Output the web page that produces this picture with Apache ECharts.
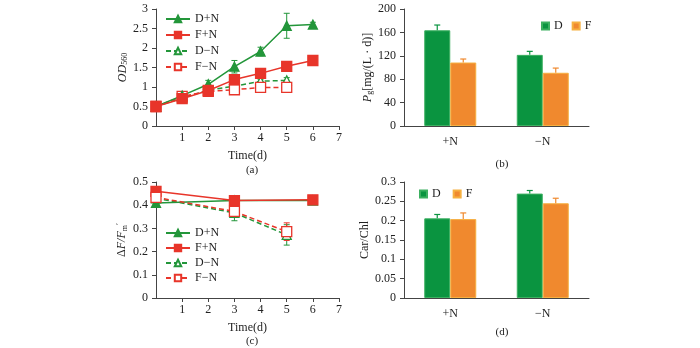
<!DOCTYPE html>
<html><head><meta charset="utf-8">
<script src="https://cdn.jsdelivr.net/npm/echarts@6/dist/echarts.min.js"></script>
<style>html,body{margin:0;padding:0;background:#fff}#c{width:700px;height:348px}</style>
</head><body><div id="c"></div>
<script>
// ---- Data ----
// (a) OD560 vs time: [day, value, error]
var odDays = [0, 1, 2, 3, 4, 5, 6];
var odDN_plus  = [0.5, 0.78, 1.07, 1.52, 1.91, 2.57, 2.6];
var odDN_plusErr = [0, 0.03, 0.1, 0.16, 0.11, 0.32, 0.06];
var odFN_plus  = [0.5, 0.7, 0.91, 1.19, 1.35, 1.53, 1.68];
var odFN_plusErr = [0, 0.02, 0.03, 0.04, 0.04, 0.08, 0.03];
var odDaysMinus = [0, 1, 2, 3, 4, 5];
var odDN_minus = [0.5, 0.72, 0.92, 1.02, 1.15, 1.17];
var odDN_minusErr = [0, 0.02, 0.03, 0.04, 0.05, 0.07];
var odFN_minus = [0.5, 0.76, 0.89, 0.93, 0.99, 0.99];
var odFN_minusErr = [0, 0.02, 0.02, 0.03, 0.03, 0.03];
// (c) ΔF/Fm' vs time
var fvDaysPlus = [0, 3, 6];
var fvDN_plus = [0.41, 0.42, 0.42];
var fvDN_plusErr = [0, 0.01, 0.005];
var fvFN_plus = [0.46, 0.42, 0.423];
var fvFN_plusErr = [0.005, 0.005, 0.005];
var fvDaysMinus = [0, 3, 5];
var fvDN_minus = [0.43, 0.367, 0.272];
var fvDN_minusErr = [0.005, 0.034, 0.044];
var fvFN_minus = [0.434, 0.373, 0.286];
var fvFN_minusErr = [0.005, 0.01, 0.038];
// (b) Pg bars
var barCats = ['+N', '−N'];
var pgD = [163.6, 121.6];
var pgDErr = [9, 6];
var pgF = [108.5, 91];
var pgFErr = [6, 8];
// (d) Car/Chl bars
var ccD = [0.206, 0.27];
var ccDErr = [0.01, 0.008];
var ccF = [0.204, 0.245];
var ccFErr = [0.016, 0.013];
// tick settings
var odTicks = {min: 0, max: 3, interval: 0.5};
var pgTicks = {min: 0, max: 200, interval: 40};
var fvTicks = {min: 0, max: 0.5, interval: 0.1};
var ccTicks = {min: 0, max: 0.3, interval: 0.05};
var dayTicks = {min: 0, max: 7, interval: 1};

// ---- Styles ----
var GREEN = '#23963a', RED = '#e8352a', BAR_G = '#0a9440', BAR_O = '#f0892e';
var FONT = 'Liberation Serif';
var AX = '#444';

function zip(xs, ys, es) { return xs.map(function (x, i) { return [x, ys[i], es[i]]; }); }

var chart = echarts.init(document.getElementById('c'), null, {renderer: 'canvas'});

var grids = [
  {left: 156, top: 9, width: 183, height: 117},
  {left: 404, top: 9, width: 185, height: 117},
  {left: 156, top: 182, width: 183, height: 116},
  {left: 404, top: 182, width: 185, height: 116}
];

var labelStyle = {color: '#222', fontFamily: FONT, fontSize: 12};
function valueX(gi) {
  return {type: 'value', gridIndex: gi, min: dayTicks.min, max: dayTicks.max, interval: dayTicks.interval,
    name: 'Time(d)', nameLocation: 'middle', nameGap: 24,
    nameTextStyle: {color: '#222', fontFamily: FONT, fontSize: 12},
    axisLine: {lineStyle: {color: AX}}, axisTick: {lineStyle: {color: AX}, length: 4},
    splitLine: {show: false},
    axisLabel: Object.assign({showMinLabel: false, margin: 6}, labelStyle)};
}
function catX(gi) {
  return {type: 'category', gridIndex: gi, data: barCats,
    axisLine: {lineStyle: {color: AX}}, axisTick: {lineStyle: {color: AX}, length: 4},
    axisLabel: Object.assign({margin: 10}, labelStyle)};
}
function valueY(gi, t, name, gap, rich) {
  return {type: 'value', gridIndex: gi, min: t.min, max: t.max, interval: t.interval,
    name: name, nameLocation: 'middle', nameGap: gap,
    nameTextStyle: {color: '#222', fontFamily: FONT, fontSize: 12, rich: rich},
    axisLine: {show: true, lineStyle: {color: AX}},
    axisTick: {show: true, lineStyle: {color: AX}, length: 4},
    splitLine: {show: false},
    axisLabel: Object.assign({margin: 8}, labelStyle)};
}
var richSub = {
  i: {fontFamily: FONT, fontSize: 12, fontStyle: 'italic', color: '#222'},
  s: {fontFamily: FONT, fontSize: 8, color: '#222', verticalAlign: 'bottom', padding: [5, 0, 0, 0]},
  p: {fontFamily: FONT, fontSize: 9, color: '#222', verticalAlign: 'top', padding: [0, 0, 5, 0]},
  n: {fontFamily: FONT, fontSize: 12, color: '#222'}
};

function lineSeries(name, xi, data, color, symbol, filled, dashed) {
  return {type: 'line', name: name, xAxisIndex: xi, yAxisIndex: xi, data: data.map(function (d) { return [d[0], d[1]]; }),
    symbol: symbol, symbolSize: symbol === 'rect' ? 10 : 9,
    lineStyle: {color: color, width: 1.5, type: dashed ? [5, 3] : 'solid'},
    itemStyle: {color: filled ? color : '#fff', borderColor: color, borderWidth: 1.3},
    z: 3};
}
function errSeries(xi, data, color) {
  return {type: 'custom', xAxisIndex: xi, yAxisIndex: xi, data: data, z: 2, silent: true,
    renderItem: function (params, api) {
      var x = api.value(0), y = api.value(1), e = api.value(2);
      var top = api.coord([x, y + e]), bot = api.coord([x, y - e]);
      var w = 3;
      return {type: 'group', children: [
        {type: 'line', shape: {x1: top[0], y1: top[1], x2: bot[0], y2: bot[1]}, style: {stroke: color, lineWidth: 1}},
        {type: 'line', shape: {x1: top[0] - w, y1: top[1], x2: top[0] + w, y2: top[1]}, style: {stroke: color, lineWidth: 1}},
        {type: 'line', shape: {x1: bot[0] - w, y1: bot[1], x2: bot[0] + w, y2: bot[1]}, style: {stroke: color, lineWidth: 1}}
      ]};
    }};
}
var BARW = 26;
function barSeries(name, xi, vals, color, border) {
  return {type: 'bar', name: name, xAxisIndex: xi, yAxisIndex: xi, data: vals, barWidth: BARW, barGap: 0,
    itemStyle: {color: color, borderColor: border, borderWidth: 1}, z: 2};
}
function barErr(xi, vals, errs, color, side) {
  var d = vals.map(function (v, i) { return [i, v, errs[i]]; });
  return {type: 'custom', xAxisIndex: xi, yAxisIndex: xi, data: d, z: 3, silent: true,
    renderItem: function (params, api) {
      var p0 = api.coord([api.value(0), api.value(1)]);
      var p1 = api.coord([api.value(0), api.value(1) + api.value(2)]);
      var x = p0[0] + side * BARW / 2;
      return {type: 'group', children: [
        {type: 'line', shape: {x1: x, y1: p0[1], x2: x, y2: p1[1]}, style: {stroke: color, lineWidth: 1.2}},
        {type: 'line', shape: {x1: x - 3, y1: p1[1], x2: x + 3, y2: p1[1]}, style: {stroke: color, lineWidth: 1.2}}
      ]};
    }};
}

var legendText = {color: '#222', fontFamily: FONT, fontSize: 12};
var titleStyle = {fontFamily: FONT, fontSize: 11, fontWeight: 'normal', color: '#222'};
var option = {
  animation: false,
  textStyle: {fontFamily: FONT},
  grid: grids,
  title: [
    {text: '(a)', left: 247, top: 160, textAlign: 'center', textStyle: titleStyle},
    {text: '(b)', left: 497, top: 154, textAlign: 'center', textStyle: titleStyle},
    {text: '(c)', left: 247, top: 331, textAlign: 'center', textStyle: titleStyle},
    {text: '(d)', left: 497, top: 322, textAlign: 'center', textStyle: titleStyle}
  ],
  legend: [
    {data: ['D+N', 'F+N', 'D−N', 'F−N'], orient: 'vertical', left: 160, top: 8, itemWidth: 24, itemHeight: 8, itemGap: 4, textStyle: legendText},
    {data: ['D', 'F'], orient: 'horizontal', left: 536, top: 15, itemWidth: 7, itemHeight: 7, itemGap: 9, icon: 'rect', textStyle: legendText},
    {data: ['D+N ', 'F+N ', 'D−N ', 'F−N '], orient: 'vertical', left: 160, top: 222, itemWidth: 24, itemHeight: 8, itemGap: 3, textStyle: legendText},
    {data: ['D ', 'F '], orient: 'horizontal', left: 414, top: 183, itemWidth: 7, itemHeight: 7, itemGap: 9, icon: 'rect', textStyle: legendText}
  ],
  xAxis: [valueX(0), catX(1), valueX(2), catX(3)],
  yAxis: [
    valueY(0, odTicks, '{i|OD}{s|560}', 26, richSub),
    valueY(1, pgTicks, '{i|P}{s|g}{n|[mg/(L · d)]}', 22, richSub),
    valueY(2, fvTicks, '{n|Δ}{i|F/F}{s|m}{p|′}', 26, richSub),
    valueY(3, ccTicks, 'Car/Chl', 24, richSub)
  ],
  series: [
    errSeries(0, zip(odDays, odDN_plus, odDN_plusErr), GREEN),
    errSeries(0, zip(odDays, odFN_plus, odFN_plusErr), RED),
    errSeries(0, zip(odDaysMinus, odDN_minus, odDN_minusErr), GREEN),
    errSeries(0, zip(odDaysMinus, odFN_minus, odFN_minusErr), RED),
    lineSeries('D−N', 0, zip(odDaysMinus, odDN_minus, odDN_minusErr), GREEN, 'triangle', false, true),
    lineSeries('F−N', 0, zip(odDaysMinus, odFN_minus, odFN_minusErr), RED, 'rect', false, true),
    lineSeries('D+N', 0, zip(odDays, odDN_plus, odDN_plusErr), GREEN, 'triangle', true, false),
    lineSeries('F+N', 0, zip(odDays, odFN_plus, odFN_plusErr), RED, 'rect', true, false),

    barSeries('D', 1, pgD, BAR_G, '#3cb060'),
    barSeries('F', 1, pgF, BAR_O, '#f6b040'),
    barErr(1, pgD, pgDErr, BAR_G, -1),
    barErr(1, pgF, pgFErr, BAR_O, 1),

    errSeries(2, zip(fvDaysPlus, fvDN_plus, fvDN_plusErr), GREEN),
    errSeries(2, zip(fvDaysPlus, fvFN_plus, fvFN_plusErr), RED),
    errSeries(2, zip(fvDaysMinus, fvDN_minus, fvDN_minusErr), GREEN),
    errSeries(2, zip(fvDaysMinus, fvFN_minus, fvFN_minusErr), RED),
    lineSeries('D−N ', 2, zip(fvDaysMinus, fvDN_minus, fvDN_minusErr), GREEN, 'triangle', false, true),
    lineSeries('D+N ', 2, zip(fvDaysPlus, fvDN_plus, fvDN_plusErr), GREEN, 'triangle', true, false),
    lineSeries('F+N ', 2, zip(fvDaysPlus, fvFN_plus, fvFN_plusErr), RED, 'rect', true, false),
    lineSeries('F−N ', 2, zip(fvDaysMinus, fvFN_minus, fvFN_minusErr), RED, 'rect', false, true),

    barSeries('D ', 3, ccD, BAR_G, '#3cb060'),
    barSeries('F ', 3, ccF, BAR_O, '#f6b040'),
    barErr(3, ccD, ccDErr, BAR_G, -1),
    barErr(3, ccF, ccFErr, BAR_O, 1)
  ]
};
chart.setOption(option);
</script>
</body></html>
